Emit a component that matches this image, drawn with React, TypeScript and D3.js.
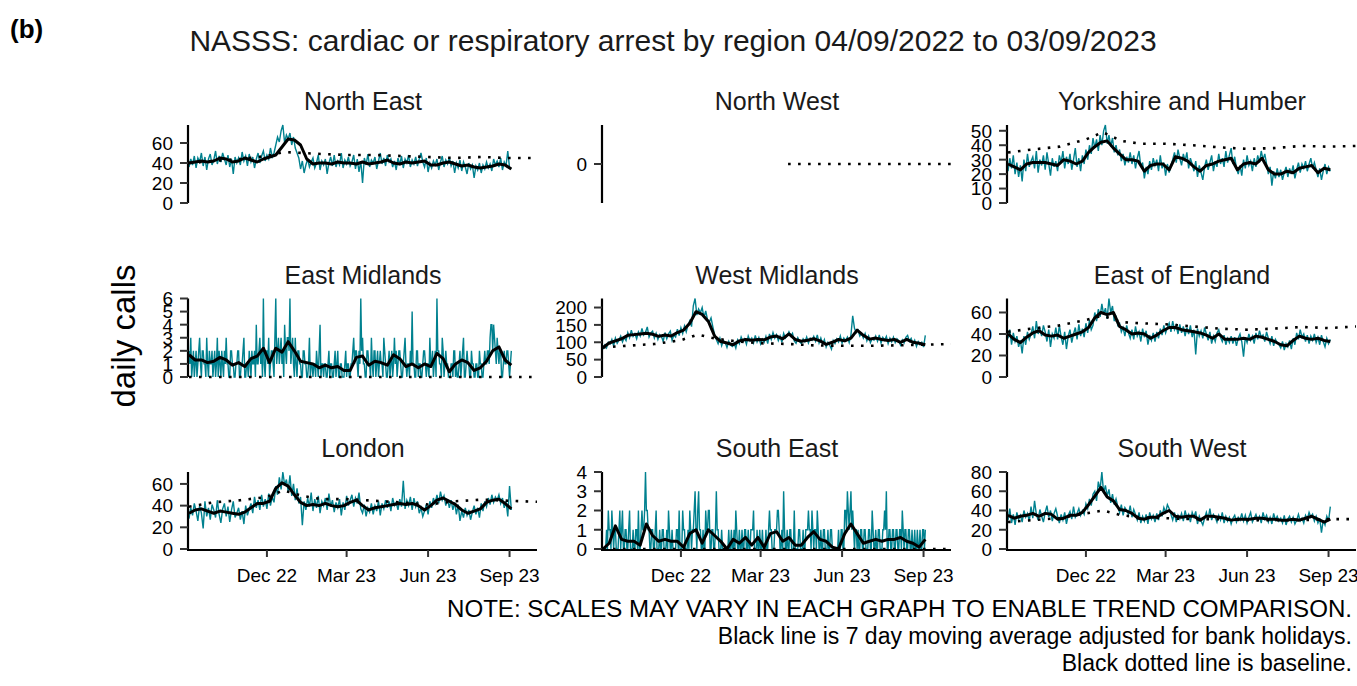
import * as d3 from 'd3';

// NASSS cardiac / respiratory arrest calls by region, 04/09/2022 - 03/09/2023
const START = new Date(2022, 8, 4);
const X_END = new Date(2023, 9, 2);
const LAST_DAY = 364;

const regions = [
  'North East', 'North West', 'Yorkshire and Humber',
  'East Midlands', 'West Midlands', 'East of England',
  'London', 'South East', 'South West',
];

// daily calls, read every second day from 04/09/2022
const neCalls = [
  36, 44, 38, 47, 35, 45, 41, 50, 37, 46, 33, 44, 49, 38, 43, 52, 39, 47, 41, 50, 44,
  38, 48, 36, 44, 29, 46, 40, 45, 38, 51, 42, 47, 37, 49, 41, 46, 35, 44, 50, 40, 47,
  52, 42, 48, 44, 55, 46, 50, 58, 66, 61, 72, 78, 60, 68, 64, 70, 58, 66, 55, 50, 45,
  34, 42, 30, 38, 44, 36, 41, 45, 35, 40, 48, 33, 42, 38, 44, 29, 40, 46, 37, 48, 36,
  42, 38, 50, 35, 43, 39, 46, 37, 41, 48, 34, 44, 31, 42, 20, 45, 38, 49, 36, 43, 40,
  46, 34, 42, 50, 39, 45, 37, 48, 41, 44, 36, 42, 33, 45, 38, 47, 35, 44, 40, 48, 36,
  43, 39, 46, 37, 44, 50, 41, 36, 45, 31, 40, 35, 42, 38, 44, 33, 41, 47, 36, 43, 39,
  45, 37, 42, 30, 40, 35, 43, 32, 41, 36, 29, 40, 34, 38, 25, 37, 33, 40, 30, 38, 34,
  41, 35, 39, 32, 44, 38, 42, 36, 45, 33, 41, 37, 52, 35, 34,
];
const nwCalls: number[] = [];
const yhCalls = [
  22, 31, 24, 33, 20, 28, 18, 26, 15, 30, 22, 34, 25, 29, 32, 24, 36, 21, 30, 26, 33,
  23, 35, 27, 19, 31, 25, 29, 22, 33, 28, 36, 24, 32, 27, 34, 23, 30, 38, 25, 31, 22,
  33, 27, 37, 30, 40, 34, 45, 38, 44, 36, 47, 40, 50, 54, 41, 47, 39, 45, 35, 40, 33,
  37, 29, 34, 26, 32, 28, 35, 27, 33, 24, 31, 36, 25, 28, 17, 25, 20, 29, 23, 31, 26,
  30, 22, 33, 24, 28, 19, 27, 21, 26, 30, 35, 28, 37, 31, 26, 34, 29, 35, 24, 31, 27,
  22, 29, 18, 26, 21, 16, 25, 30, 23, 28, 33, 22, 29, 25, 34, 27, 31, 25, 36, 28, 33,
  38, 27, 32, 24, 20, 26, 19, 30, 24, 33, 26, 29, 22, 31, 25, 33, 28, 36, 30, 34, 27,
  20, 25, 12, 22, 17, 24, 18, 23, 16, 21, 25, 18, 24, 20, 26, 17, 23, 28, 21, 27, 24,
  29, 22, 27, 31, 24, 28, 23, 18, 24, 16, 22, 27, 20, 25, 22,
];
// East Midlands and South East are small counts, read day by day
const emCalls = [
  2, 1, 3, 0, 1, 2, 0, 1, 2, 0, 1, 2, 3, 1,
  0, 2, 2, 1, 1, 0, 3, 1, 0, 2, 1, 1, 2, 0,
  1, 2, 0, 1, 3, 0, 2, 1, 0, 2, 1, 0, 2, 1,
  3, 1, 1, 0, 0, 2, 2, 1, 1, 0, 0, 1, 1, 2,
  2, 0, 0, 1, 1, 2, 3, 0, 0, 1, 1, 0, 2, 1,
  0, 2, 1, 1, 2, 0, 4, 1, 1, 2, 3, 1, 2, 0,
  6, 1, 0, 2, 2, 1, 3, 0, 1, 2, 2, 1, 0, 3,
  6, 1, 2, 3, 1, 2, 3, 1, 2, 0, 4, 2, 1, 3,
  3, 2, 6, 1, 2, 3, 1, 0, 3, 1, 0, 2, 2, 1,
  1, 0, 0, 2, 2, 1, 1, 0, 0, 1, 3, 0, 1, 1,
  0, 1, 1, 0, 2, 1, 0, 2, 4, 0, 1, 1, 0, 1,
  1, 0, 0, 1, 2, 0, 1, 1, 0, 0, 1, 2, 0, 1,
  2, 0, 0, 1, 1, 0, 0, 0, 1, 2, 0, 1, 1, 0,
  0, 1, 1, 2, 3, 1, 2, 2, 1, 0, 2, 1, 6, 2,
  3, 1, 1, 0, 0, 2, 2, 1, 1, 0, 3, 1, 0, 2,
  2, 0, 1, 2, 0, 1, 2, 1, 1, 0, 3, 2, 1, 0,
  0, 1, 2, 0, 1, 2, 0, 1, 3, 1, 2, 0, 1, 2,
  2, 1, 0, 0, 1, 2, 3, 1, 0, 1, 1, 0, 2, 1,
  5, 1, 1, 0, 0, 2, 2, 0, 1, 1, 0, 0, 1, 2,
  2, 1, 0, 1, 1, 0, 3, 1, 1, 2, 0, 1, 2, 0,
  6, 2, 2, 1, 1, 0, 3, 2, 0, 1, 2, 1, 1, 0,
  0, 0, 1, 1, 0, 2, 2, 0, 1, 0, 0, 1, 2, 0,
  1, 2, 3, 0, 0, 1, 2, 1, 1, 0, 0, 2, 1, 1,
  0, 0, 1, 1, 0, 0, 2, 1, 1, 0, 0, 1, 2, 1,
  1, 2, 2, 1, 3, 4, 4, 2, 4, 3, 2, 1, 3, 2,
  1, 2, 2, 0, 0, 1, 2, 1, 1, 2, 2, 1, 0, 1,
  2,
];
const wmCalls = [
  80, 92, 84, 100, 95, 108, 90, 112, 97, 106, 118, 101, 114, 105, 128, 113, 135, 117, 125, 110, 130,
  118, 140, 121, 129, 144, 115, 127, 132, 112, 126, 108, 122, 116, 103, 128, 110, 124, 132, 106, 121, 115,
  138, 119, 142, 125, 147, 130, 150, 162, 145, 205, 226, 178, 196, 185, 200, 172, 190, 165, 158, 170, 145,
  122, 108, 96, 112, 90, 105, 99, 85, 103, 92, 88, 98, 83, 107, 96, 115, 102, 110, 94, 118, 104,
  112, 98, 120, 101, 114, 95, 109, 100, 117, 96, 124, 108, 128, 112, 122, 105, 118, 100, 126, 112, 119,
  130, 118, 126, 104, 97, 113, 102, 96, 110, 101, 115, 98, 112, 106, 117, 103, 121, 98, 112, 95, 108,
  86, 100, 92, 80, 105, 96, 110, 101, 118, 97, 112, 104, 115, 99, 121, 176, 140, 128, 135, 118, 126,
  112, 125, 104, 118, 99, 110, 106, 118, 103, 121, 98, 114, 106, 117, 96, 112, 101, 115, 99, 110, 104,
  92, 107, 98, 114, 120, 103, 111, 95, 106, 88, 102, 93, 100, 86, 120,
];
const eeCalls = [
  36, 44, 30, 41, 33, 38, 28, 34, 22, 38, 30, 42, 35, 40, 47, 36, 52, 40, 45, 38, 48,
  42, 33, 44, 28, 40, 36, 46, 35, 48, 37, 30, 42, 26, 38, 44, 32, 40, 46, 35, 49, 38,
  45, 37, 50, 41, 53, 44, 48, 60, 52, 63, 56, 68, 58, 64, 54, 73, 60, 66, 52, 57, 48,
  50, 42, 46, 38, 48, 41, 36, 44, 35, 47, 38, 42, 33, 45, 37, 43, 30, 39, 34, 41, 33,
  42, 36, 45, 39, 48, 41, 46, 50, 42, 52, 44, 48, 40, 49, 41, 47, 38, 46, 40, 48, 37,
  44, 21, 45, 38, 43, 36, 46, 40, 34, 42, 31, 38, 33, 41, 44, 37, 33, 39, 30, 36, 32,
  38, 31, 37, 29, 36, 40, 33, 19, 37, 32, 40, 34, 38, 31, 41, 35, 43, 37, 39, 33, 42,
  36, 31, 38, 29, 35, 32, 30, 27, 33, 25, 31, 28, 34, 26, 36, 30, 41, 35, 44, 37, 40,
  33, 39, 31, 38, 34, 40, 32, 37, 30, 39, 33, 28, 36, 31, 35,
];
const lonCalls = [
  28, 38, 31, 42, 35, 26, 40, 33, 19, 44, 30, 38, 27, 41, 36, 29, 45, 32, 24, 37, 42,
  30, 39, 25, 36, 44, 29, 33, 38, 27, 35, 23, 40, 31, 37, 42, 33, 48, 38, 45, 36, 50,
  39, 46, 37, 51, 40, 48, 43, 58, 50, 66, 55, 71, 59, 64, 53, 68, 49, 60, 45, 56, 42,
  48, 22, 44, 36, 47, 39, 52, 35, 46, 38, 49, 33, 44, 40, 47, 36, 51, 39, 45, 34, 43,
  38, 46, 31, 43, 36, 49, 40, 45, 50, 39, 47, 42, 52, 37, 33, 41, 30, 38, 34, 42, 32,
  40, 35, 44, 31, 42, 37, 45, 38, 44, 35, 47, 40, 43, 36, 46, 39, 63, 37, 45, 40, 48,
  36, 47, 39, 44, 33, 38, 30, 35, 41, 32, 44, 38, 47, 42, 50, 42, 53, 45, 49, 40, 46,
  38, 45, 36, 43, 32, 41, 26, 35, 29, 38, 31, 36, 27, 34, 40, 32, 38, 29, 42, 35, 44,
  39, 47, 41, 50, 43, 48, 45, 50, 42, 47, 38, 44, 30, 58, 36,
];
const seCalls = [
  0, 0, 0, 0, 1, 0, 2, 1, 1, 0, 2, 1, 0, 1,
  1, 0, 0, 0, 1, 2, 0, 1, 2, 0, 0, 1, 1, 0,
  0, 1, 2, 0, 0, 0, 1, 0, 0, 1, 1, 0, 2, 0,
  0, 1, 2, 1, 1, 2, 4, 2, 2, 1, 1, 0, 0, 1,
  1, 0, 0, 1, 2, 0, 0, 0, 1, 0, 0, 1, 1, 0,
  0, 0, 1, 0, 2, 1, 0, 0, 1, 0, 0, 0, 0, 1,
  1, 0, 2, 0, 0, 0, 2, 1, 1, 0, 0, 0, 1, 0,
  2, 1, 0, 1, 1, 2, 3, 1, 0, 2, 3, 1, 1, 0,
  0, 1, 0, 0, 2, 1, 1, 2, 2, 0, 0, 1, 1, 0,
  0, 1, 3, 1, 1, 0, 0, 0, 1, 0, 0, 0, 0, 0,
  0, 0, 1, 0, 0, 1, 0, 0, 1, 0, 2, 1, 0, 0,
  1, 0, 0, 1, 0, 0, 1, 1, 0, 0, 1, 0, 0, 1,
  1, 1, 2, 0, 0, 0, 1, 0, 0, 1, 0, 0, 1, 0,
  0, 0, 1, 0, 0, 1, 2, 1, 1, 0, 0, 0, 1, 1,
  1, 2, 2, 1, 0, 0, 1, 0, 3, 1, 0, 0, 1, 0,
  0, 1, 1, 0, 0, 0, 2, 0, 0, 0, 0, 1, 1, 0,
  0, 0, 1, 0, 0, 1, 1, 1, 2, 1, 1, 0, 2, 1,
  0, 1, 1, 0, 2, 1, 0, 0, 1, 0, 0, 1, 1, 0,
  0, 0, 1, 0, 0, 1, 1, 0, 0, 0, 0, 0, 0, 0,
  1, 0, 0, 1, 1, 0, 0, 2, 2, 1, 3, 2, 1, 2,
  3, 1, 2, 1, 0, 1, 1, 0, 1, 0, 0, 1, 1, 0,
  0, 1, 1, 0, 0, 0, 1, 1, 0, 0, 2, 1, 0, 0,
  1, 0, 0, 1, 1, 0, 0, 0, 1, 1, 2, 1, 3, 0,
  0, 1, 1, 0, 0, 1, 1, 0, 0, 1, 1, 0, 0, 1,
  1, 0, 2, 1, 0, 1, 1, 0, 0, 1, 1, 0, 0, 1,
  0, 0, 1, 0, 0, 1, 0, 0, 1, 0, 0, 1, 1, 0,
  1,
];
const swCalls = [
  30, 42, 27, 36, 25, 38, 31, 35, 28, 40, 33, 37, 29, 44, 32, 50, 36, 30, 41, 34, 28,
  38, 45, 33, 40, 29, 37, 42, 34, 27, 36, 30, 38, 26, 35, 39, 31, 44, 33, 37, 42, 35,
  40, 36, 47, 42, 52, 45, 57, 60, 50, 70, 62, 80, 58, 66, 55, 62, 48, 57, 46, 52, 44,
  38, 46, 35, 43, 40, 36, 45, 33, 41, 36, 30, 38, 27, 34, 29, 36, 26, 38, 31, 35, 28,
  37, 30, 40, 34, 43, 38, 46, 42, 36, 30, 38, 28, 35, 31, 37, 29, 40, 32, 36, 28, 38,
  33, 39, 26, 34, 29, 25, 32, 38, 31, 42, 30, 36, 33, 28, 35, 30, 38, 27, 34, 29, 33,
  26, 32, 35, 28, 33, 30, 37, 29, 35, 27, 33, 38, 28, 32, 36, 30, 34, 27, 38, 31, 35,
  28, 33, 26, 37, 30, 34, 29, 32, 27, 35, 25, 31, 34, 28, 33, 26, 30, 36, 29, 32, 27,
  35, 31, 38, 33, 36, 29, 34, 27, 32, 17, 30, 25, 34, 29, 44,
];

// 7 day moving average, read weekly from 04/09/2022
const neAvg = [40, 41, 42, 41, 42, 45, 44, 41, 42, 45, 43, 41, 44, 46, 48, 56, 64, 63, 58, 44, 39, 40, 40, 39, 41, 40, 40, 39, 41, 39, 40, 41, 43, 40, 39, 41, 40, 41, 42, 38, 38, 40, 41, 39, 37, 38, 36, 35, 36, 37, 39, 38, 34];
const nwAvg: number[] = [];
const yhAvg = [27, 25, 23, 27, 28, 28, 28, 27, 26, 30, 29, 27, 29, 35, 39, 42, 43, 38, 34, 30, 30, 29, 22, 26, 27, 27, 23, 32, 31, 29, 25, 22, 26, 27, 29, 30, 31, 23, 27, 28, 27, 31, 23, 20, 20, 22, 21, 24, 25, 26, 21, 24, 23];
const emAvg = [1.7, 1.3, 1.3, 1.1, 1.2, 1.5, 1.3, 0.9, 1.1, 0.8, 1.4, 1.6, 2.2, 1.1, 2.2, 1.9, 2.7, 2.0, 1.2, 1.1, 1.0, 0.7, 0.9, 0.7, 0.8, 0.5, 0.5, 1.5, 1.6, 0.9, 1.2, 1.1, 0.9, 1.7, 1.4, 0.8, 1.0, 0.7, 1.0, 0.8, 1.8, 1.4, 0.4, 1.0, 1.3, 1.1, 0.5, 0.7, 1.2, 2.0, 2.3, 1.3, 0.9];
const wmAvg = [85, 98, 104, 110, 120, 122, 124, 126, 123, 117, 121, 118, 128, 135, 155, 188, 180, 160, 118, 102, 98, 93, 104, 108, 106, 108, 107, 115, 118, 110, 124, 108, 103, 106, 110, 104, 94, 100, 108, 104, 112, 135, 120, 109, 112, 108, 105, 108, 100, 108, 100, 97, 93];
const eeAvg = [40, 35, 32, 37, 41, 43, 39, 38, 39, 36, 38, 40, 42, 46, 55, 60, 58, 60, 47, 44, 40, 41, 40, 36, 39, 43, 46, 46, 44, 43, 42, 41, 39, 36, 40, 35, 35, 35, 36, 35, 38, 37, 35, 33, 30, 29, 34, 38, 36, 35, 36, 34, 33];
const lonAvg = [33, 36, 37, 35, 33, 35, 34, 33, 32, 34, 38, 42, 42, 44, 56, 61, 58, 50, 43, 40, 41, 40, 42, 40, 39, 40, 43, 45, 40, 36, 38, 39, 40, 41, 42, 41, 42, 40, 36, 40, 45, 47, 44, 41, 36, 33, 35, 37, 43, 45, 46, 42, 37];
const seAvg = [0.0, 0.3, 1.2, 0.5, 0.4, 0.4, 0.2, 1.3, 0.7, 0.4, 0.5, 0.4, 0.4, 0.1, 0.8, 1.0, 0.3, 1.0, 0.7, 0.4, 0.0, 0.5, 0.3, 0.6, 0.2, 0.6, 0.1, 0.8, 0.9, 0.4, 0.6, 0.2, 0.2, 0.6, 0.9, 0.5, 0.4, 0.1, 0.0, 0.8, 1.3, 0.8, 0.3, 0.4, 0.5, 0.4, 0.5, 0.5, 0.6, 0.4, 0.3, 0.1, 0.5];
const swAvg = [35, 32, 34, 35, 37, 34, 37, 36, 31, 32, 35, 35, 38, 46, 55, 64, 54, 50, 41, 40, 37, 32, 31, 33, 33, 37, 40, 34, 33, 34, 34, 30, 34, 34, 33, 32, 30, 31, 31, 31, 32, 32, 31, 31, 30, 30, 31, 30, 32, 34, 31, 28, 31];

// baseline (dotted)
const baseDates = ['2022-09-04', '2022-10-01', '2022-11-01', '2022-12-01', '2022-12-20', '2023-01-10', '2023-02-01', '2023-03-01', '2023-04-01', '2023-05-01', '2023-06-01', '2023-07-01', '2023-08-01', '2023-09-01', '2023-10-02'];
const neBase = [40, 42, 44, 47, 51, 50, 49, 48, 48, 47, 46, 45, 46, 45, 45];
const nwBase = [null, null, null, null, null, null, null, null, 0, 0, 0, 0, 0, 0, 0];
const yhBase = [35, 37, 39, 44, 49, 43, 41, 41, 40, 38.5, 37.5, 38, 39.5, 39, 39.5];
const emBase = [0, 0, 0, 0, 0, 0, 0, 0, 0, 0, 0, 0, 0, 0, 0];
const wmBase = [85, 90, 95, 106, 122, 110, 103, 97, 95, 91, 90, 90, 91, 93, 95];
const eeBase = [42, 45, 48, 53, 57, 51, 50, 49, 47, 45, 44, 45, 46.5, 45.5, 47];
const lonBase = [39, 43, 45, 48, 54, 49, 46, 46, 44.5, 43, 41, 44, 45.5, 44.5, 43.5];
const seBase = [0, 0, 0, 0, 0, 0, 0, 0, 0, 0, 0, 0, 0, 0, 0];
const swBase = [28, 30, 32, 37, 40, 35, 33, 32, 31, 31, 30, 30, 30, 31, 31];

// axis ticks
const neTicks = [0, 20, 40, 60];
const nwTicks = [0];
const yhTicks = [0, 10, 20, 30, 40, 50];
const emTicks = [0, 1, 2, 3, 4, 5, 6];
const wmTicks = [0, 50, 100, 150, 200];
const eeTicks = [0, 20, 40, 60];
const lonTicks = [0, 20, 40, 60];
const seTicks = [0, 1, 2, 3, 4];
const swTicks = [0, 20, 40, 60, 80];
const xTickDates = ['2022-12-01', '2023-03-01', '2023-06-01', '2023-09-01'];
const xTickLabels = ['Dec 22', 'Mar 23', 'Jun 23', 'Sep 23'];

const notes = [
  'NOTE: SCALES MAY VARY IN EACH GRAPH TO ENABLE TREND COMPARISON.',
  'Black line is 7 day moving average adjusted for bank holidays.',
  'Black dotted line is baseline.',
];

const panels = [
  { calls: neCalls, avg: neAvg, base: neBase, ticks: neTicks },
  { calls: nwCalls, avg: nwAvg, base: nwBase, ticks: nwTicks },
  { calls: yhCalls, avg: yhAvg, base: yhBase, ticks: yhTicks },
  { calls: emCalls, avg: emAvg, base: emBase, ticks: emTicks },
  { calls: wmCalls, avg: wmAvg, base: wmBase, ticks: wmTicks },
  { calls: eeCalls, avg: eeAvg, base: eeBase, ticks: eeTicks },
  { calls: lonCalls, avg: lonAvg, base: lonBase, ticks: lonTicks },
  { calls: seCalls, avg: seAvg, base: seBase, ticks: seTicks },
  { calls: swCalls, avg: swAvg, base: swBase, ticks: swTicks },
].map((p, i) => ({ ...p, name: regions[i] }));

const parse = d3.timeParse('%Y-%m-%d');
const FONT = 'Liberation Sans, Arial, Helvetica, sans-serif';
const TEAL = '#00818f';
const W = 1357;
const H = 686;
const colX = [189, 603, 1008];
const rowTop = [125, 298.5, 472];
const rowBottom = [203, 377, 549];
const PW = 348;

type PanelData = (typeof panels)[number];

function Panel({ p, col, row }: { p: PanelData; col: number; row: number }) {
  const x0 = colX[col];
  const top = rowTop[row];
  const bottom = rowBottom[row];
  const x = d3.scaleTime().domain([START, X_END]).range([x0, x0 + PW]);
  const max = d3.max(p.calls);
  const y = d3.scaleLinear()
    .domain(max == null ? [-1, 1] : [0, max])
    .range([bottom, top]);

  // daily series may be read every day or every second day
  const step = p.calls.length > 1 ? LAST_DAY / (p.calls.length - 1) : 1;
  const callLine = d3.line<number>()
    .x((_, i) => x(d3.timeDay.offset(START, Math.round(step * i))))
    .y(d => y(d));
  const avgLine = d3.line<number>()
    .x((_, i) => x(d3.timeDay.offset(START, 7 * i)))
    .y(d => y(d));
  const baseLine = d3.line<number | null>()
    .defined(d => d != null)
    .x((_, i) => x(parse(baseDates[i]) as Date))
    .y(d => y(d as number));

  return (
    <g>
      <text x={x0 + PW / 2} y={top - 15} textAnchor="middle" fontSize={25} fill="#1a1a1a">
        {p.name}
      </text>
      {p.calls.length > 0 && (
        <path d={callLine(p.calls) ?? ''} fill="none" stroke={TEAL} strokeWidth={1.4} />
      )}
      <path d={baseLine(p.base) ?? ''} fill="none" stroke="#000" strokeWidth={2.6}
        strokeDasharray="2.6 7.4" />
      {p.avg.length > 0 && (
        <path d={avgLine(p.avg) ?? ''} fill="none" stroke="#000" strokeWidth={3}
          strokeLinejoin="round" />
      )}
      {/* y axis */}
      <line x1={x0 - 1} x2={x0 - 1} y1={top} y2={bottom} stroke="#000" strokeWidth={2.2} />
      {p.ticks.map(t => (
        <g key={t}>
          <line x1={x0 - 9} x2={x0 - 1} y1={y(t)} y2={y(t)} stroke="#333" strokeWidth={2} />
          <text x={x0 - 16} y={y(t)} dy="0.36em" textAnchor="end" fontSize={19} fill="#000">
            {t}
          </text>
        </g>
      ))}
      {/* x axis on bottom row */}
      {row === 2 && (
        <g>
          <line x1={x0 - 2} x2={x0 + PW} y1={bottom + 1} y2={bottom + 1} stroke="#000" strokeWidth={2.2} />
          {xTickDates.map((d, i) => {
            const tx = x(parse(d) as Date);
            return (
              <g key={d}>
                <line x1={tx} x2={tx} y1={bottom + 1} y2={bottom + 8} stroke="#333" strokeWidth={2} />
                <text x={tx} y={bottom + 33} textAnchor="middle" fontSize={19} fill="#000">
                  {xTickLabels[i]}
                </text>
              </g>
            );
          })}
        </g>
      )}
    </g>
  );
}

export default function App() {
  return (
    <svg width={W} height={H} style={{ position: 'absolute', left: 0, top: 0, background: '#fff' }}
      fontFamily={FONT}>
      <rect width={W} height={H} fill="#fff" />
      <text x={10} y={38} fontSize={26} fontWeight="bold">(b)</text>
      <text x={673} y={51} textAnchor="middle" fontSize={30} fill="#1a1a1a">
        NASSS: cardiac or respiratory arrest by region 04/09/2022 to 03/09/2023
      </text>
      <text transform="translate(135,336) rotate(-90)" textAnchor="middle" fontSize={33} fill="#000">
        daily calls
      </text>
      {panels.map((p, i) => (
        <Panel key={p.name} p={p} col={i % 3} row={Math.floor(i / 3)} />
      ))}
      {notes.map((n, i) => (
        <text key={i} x={1352} y={617 + i * 27} textAnchor="end" fontSize={23} fill="#000"
          textLength={i === 0 ? 905 : undefined} lengthAdjust="spacingAndGlyphs">
          {n}
        </text>
      ))}
    </svg>
  );
}
